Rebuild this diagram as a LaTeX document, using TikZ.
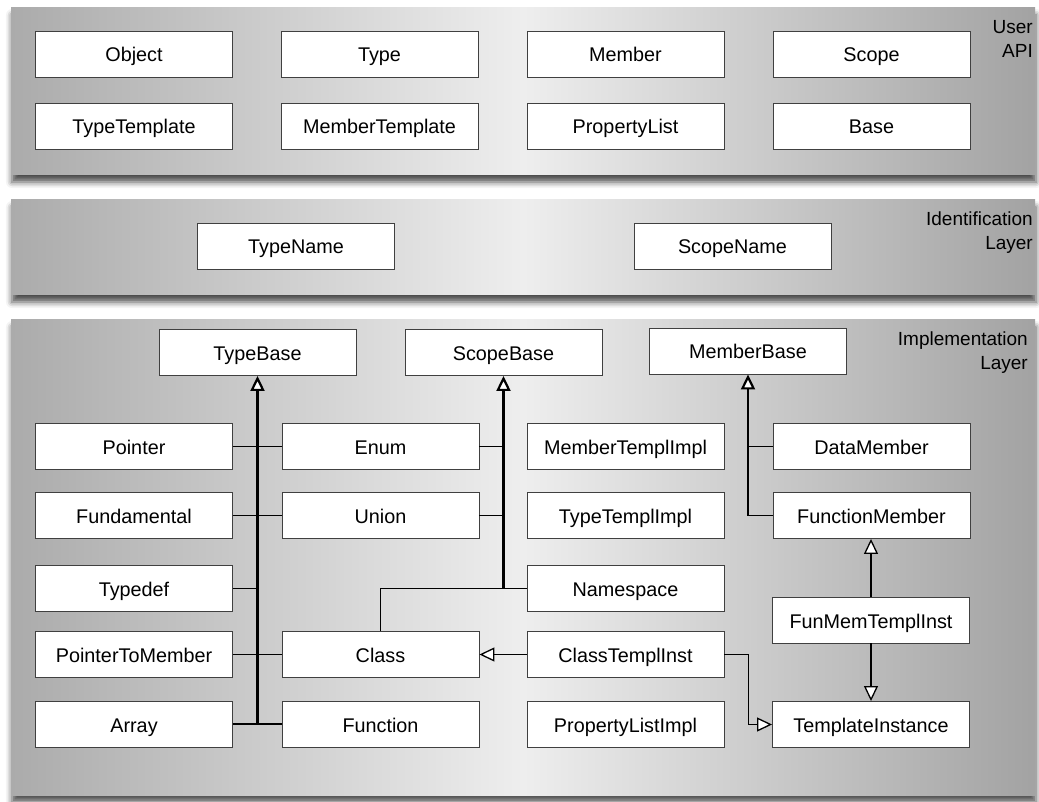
\documentclass[tikz,border=0pt]{standalone}
\usepackage{fontspec}
\setmainfont{Liberation Sans}
\usetikzlibrary{arrows.meta,shadows.blur,calc}
\definecolor{panelside}{HTML}{ABABAB}
\definecolor{panelmid}{HTML}{EEEEEE}
\definecolor{boxline}{HTML}{404040}
\tikzset{
  panel/.style={draw=none, left color=panelside, right color=panelside!95!black, middle color=panelmid,
    blur shadow={shadow xshift=1pt, shadow yshift=-7pt, shadow blur radius=6pt, shadow opacity=70}},
  cls/.style={draw=boxline, line width=0.9pt, fill=white, minimum width=197pt, minimum height=46pt,
    inner sep=0pt, text height=20pt, text depth=4pt, font=\fontsize{19.8}{23}\selectfont},
  layerlabel/.style={align=right, anchor=north east, inner sep=0pt, font=\fontsize{19}{24}\selectfont},
  trunk/.style={line width=2.2pt, black},
  branch/.style={line width=1.3pt, black},
  opentip/.style={-{Triangle[open, length=15pt, width=14pt, fill=white]}},
}
\begin{document}
\begin{tikzpicture}[x=1pt,y=-1pt]
\useasboundingbox (0,0) rectangle (1039,802);
% panels
\path[panel] (11,8) rectangle (1035,175);
\path[panel] (11,200) rectangle (1035,295);
\path[panel] (11,320) rectangle (1035,795);
% layer labels
\node[layerlabel] (lblUser) at (1033,20) {User\\API};
\node[layerlabel] (lblId) at (1033,212) {Identification\\Layer};
\node[layerlabel] (lblImpl) at (1028,332) {Implementation\\Layer};
% user API
\node[cls] (Object) at (134,54) {Object};
\node[cls] (Type) at (379.5,54) {Type};
\node[cls] (Member) at (625.5,54) {Member};
\node[cls] (Scope) at (871.5,54) {Scope};
\node[cls] (TypeTemplate) at (134,126) {TypeTemplate};
\node[cls] (MemberTemplate) at (379.5,126) {MemberTemplate};
\node[cls] (PropertyList) at (625.5,126) {PropertyList};
\node[cls] (Base) at (871.5,126) {Base};
% identification
\node[cls] (TypeName) at (296,246) {TypeName};
\node[cls] (ScopeName) at (732.5,246) {ScopeName};
% implementation
\node[cls] (TypeBase) at (257.5,352.5) {TypeBase};
\node[cls] (ScopeBase) at (503.5,352.5) {ScopeBase};
\node[cls] (MemberBase) at (748,351) {MemberBase};
\node[cls] (Pointer) at (134,446.5) {Pointer};
\node[cls] (Enum) at (380.5,446.5) {Enum};
\node[cls] (MemberTemplImpl) at (625.5,446.5) {MemberTemplImpl};
\node[cls] (DataMember) at (871.5,446.5) {DataMember};
\node[cls] (Fundamental) at (134,515.5) {Fundamental};
\node[cls] (Union) at (380.5,515.5) {Union};
\node[cls] (TypeTemplImpl) at (625.5,515.5) {TypeTemplImpl};
\node[cls] (FunctionMember) at (871.5,515.5) {FunctionMember};
\node[cls] (Typedef) at (134,588.5) {Typedef};
\node[cls] (Namespace) at (625.5,588.5) {Namespace};
\node[cls] (FunMemTemplInst) at (871,620) {FunMemTemplInst};
\node[cls] (PointerToMember) at (134,654.5) {PointerToMember};
\node[cls] (Class) at (380.5,654.5) {Class};
\node[cls] (ClassTemplInst) at (625.5,654.5) {ClassTemplInst};
\node[cls] (Array) at (134,724) {Array};
\node[cls] (Function) at (380.5,724) {Function};
\node[cls] (PropertyListImpl) at (625.5,724) {PropertyListImpl};
\node[cls] (TemplateInstance) at (871,724.5) {TemplateInstance};
% TypeBase hierarchy
\draw[branch] (Pointer.east) -- (Enum.west);
\draw[branch] (Fundamental.east) -- (Union.west);
\draw[branch] (Typedef.east) -- (Typedef.east -| TypeBase.south);
\draw[branch] (PointerToMember.east) -- (Class.west);
\draw[branch] (Array.east) -- (Function.west);
\draw[trunk, opentip] (TypeBase.south |- Array.east) -- (TypeBase.south);
% ScopeBase hierarchy
\draw[branch] (Enum.east) -- (Enum.east -| ScopeBase.south);
\draw[branch] (Union.east) -- (Union.east -| ScopeBase.south);
\draw[branch] (Namespace.west) -- (Namespace.west -| Class.north) -- (Class.north);
\draw[trunk, opentip] (ScopeBase.south |- Namespace.west) -- (ScopeBase.south);
% MemberBase hierarchy
\draw[branch] (DataMember.west) -- (DataMember.west -| MemberBase.south);
\draw[branch] (FunctionMember.west) -- (FunctionMember.west -| MemberBase.south);
\draw[trunk, opentip] (MemberBase.south |- FunctionMember.west) -- (MemberBase.south);
% template instances
\draw[branch, opentip] (FunMemTemplInst.north) -- (FunMemTemplInst.north |- FunctionMember.south);
\draw[branch, opentip] (FunMemTemplInst.south) -- (FunMemTemplInst.south |- TemplateInstance.north);
\draw[branch, opentip] (ClassTemplInst.west) -- (Class.east);
\draw[branch, opentip] (ClassTemplInst.east) -- ++(24,0) |- (TemplateInstance.west);
\end{tikzpicture}
\end{document}
